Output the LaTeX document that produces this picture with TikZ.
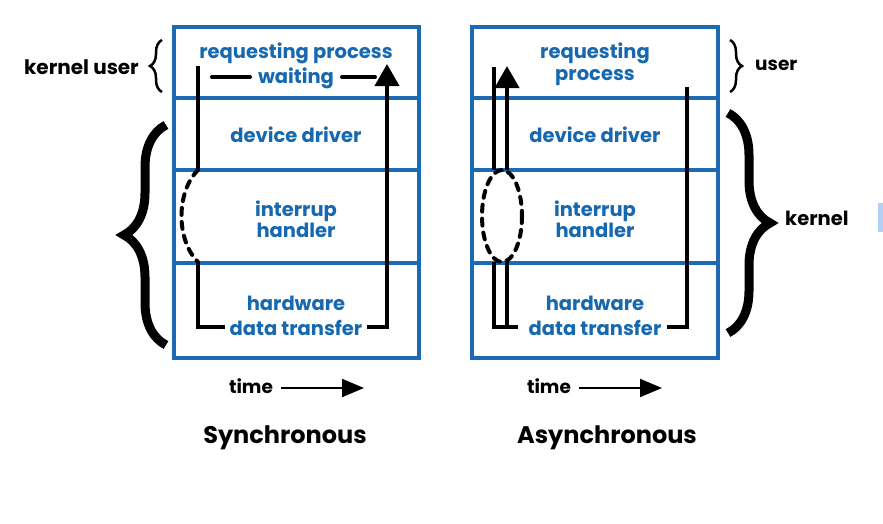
\documentclass[tikz,border=0pt]{standalone}
\usepackage{fontspec}
\setmainfont{Poppins}
\usetikzlibrary{arrows.meta,decorations.pathreplacing}
\definecolor{boxblue}{HTML}{1A6BB3}
\definecolor{txtblue}{HTML}{1668B0}
\definecolor{marker}{HTML}{B3CFF2}
\begin{document}
\begin{tikzpicture}[x=1pt,y=-1pt,
  lbl/.style={text=txtblue,font=\bfseries\fontsize{19.5}{21}\selectfont,inner sep=0},
  side/.style={text=black,font=\bfseries\fontsize{18.5}{20}\selectfont,inner sep=0},
  title/.style={text=black,font=\bfseries\fontsize{24}{26}\selectfont,inner sep=0},
  frame/.style={draw=boxblue,line width=3.5pt},
  flow/.style={draw=black,line width=4pt},
  dflow/.style={draw=black,line width=4pt,dash pattern=on 7pt off 7pt,line cap=round},
  bigtip/.style={-{Triangle[width=24pt,length=22pt]}},
  timetip/.style={-{Triangle[width=18pt,length=22pt]}},
  thinbrace/.style={decorate,decoration={brace,amplitude=12pt},line width=2.5pt},
  thickbrace/.style={decorate,decoration={brace,amplitude=42pt},line width=9pt}]
\useasboundingbox (0,0) rectangle (883,523);
\fill[white] (0,0) rectangle (883,523);

% ---------- Synchronous frame ----------
\draw[frame] (174,27) rectangle (419,358);
\draw[frame] (174,98) -- (419,98);
\draw[frame] (174,170) -- (419,170);
\draw[frame] (174,263) -- (419,263);

\node[lbl] (s_req) at (296,53) {requesting process};
\node[lbl] (s_wait) at (296,78) {waiting};
\node[lbl] (s_dev) at (296,135) {device driver};
\node[lbl] (s_int1) at (296,211) {interrup};
\node[lbl] (s_int2) at (296,230) {handler};
\node[lbl] (s_hw1) at (296,303) {hardware};
\node[lbl] (s_hw2) at (296,328) {data transfer};

% ---------- Asynchronous frame ----------
\draw[frame] (472,27) rectangle (718,358);
\draw[frame] (472,98) -- (718,98);
\draw[frame] (472,170) -- (718,170);
\draw[frame] (472,263) -- (718,263);

\node[lbl] (a_req1) at (595,53) {requesting};
\node[lbl] (a_req2) at (595,78) {process};
\node[lbl] (a_dev) at (595,135) {device driver};
\node[lbl] (a_int1) at (595,211) {interrup};
\node[lbl] (a_int2) at (595,230) {handler};
\node[lbl] (a_hw1) at (595,303) {hardware};
\node[lbl] (a_hw2) at (595,328) {data transfer};

% ---------- Synchronous flow ----------
\coordinate (s1) at (198,66);
\coordinate (s2) at (198,170);
\coordinate (s3) at (198,262);
\coordinate (s4) at (198,327);
\coordinate (s5) at (225,327);
\coordinate (s6) at (367,327);
\coordinate (s7) at (387,327);
\coordinate (s8) at (387,64);
\draw[flow] (s1) -- (s2);
\draw[dflow] (s2) .. controls (176,192) and (176,240) .. (s3);
\draw[flow] (s3) -- (s4) -- (s5);
\draw[flow,bigtip] (s6) -- (s7) -- (s8);
\coordinate (w1) at (212,77);
\coordinate (w2) at (250,77);
\coordinate (w3) at (342,77);
\coordinate (w4) at (375,77);
\draw[flow,line cap=round] (w1) -- (w2);
\draw[flow,line cap=round] (w3) -- (w4);

% ---------- Asynchronous flow ----------
\coordinate (a1) at (494,67);
\coordinate (a2) at (494,170);
\coordinate (b1) at (507,170);
\coordinate (b2) at (507,66);
\coordinate (a3) at (494,262);
\coordinate (a4) at (494,327);
\coordinate (a5) at (518,327);
\coordinate (b3) at (507,262);
\coordinate (b4) at (507,327);
\coordinate (c1) at (667,327);
\coordinate (c2) at (687,327);
\coordinate (c3) at (687,87);
\coordinate (ec) at (502,216);
\draw[flow] (a1) -- (a2);
\draw[flow,bigtip] (b1) -- (b2);
\draw[dflow] (ec) ellipse [x radius=20, y radius=46];
\draw[flow] (a3) -- (a4) -- (a5);
\draw[flow] (b3) -- (b4);
\draw[flow] (c1) -- (c2) -- (c3);

% ---------- Braces and side labels ----------
\draw[thinbrace] (162,92) -- (162,40);
\draw[thickbrace] (166,345) -- (166,125);
\node[side,anchor=east,font=\bfseries\fontsize{20}{22}\selectfont] (kuser) at (139,67) {kernel user};

\draw[thinbrace] (730,40) -- (730,92);
\draw[thickbrace] (728,113) -- (728,333);
\node[side,anchor=west] (user) at (755,65) {user};
\node[side,anchor=west,font=\bfseries\fontsize{19.5}{21}\selectfont] (kernel) at (785,218) {kernel};

\fill[marker] (878,203) rectangle (883,232);

% ---------- Time arrows and titles ----------
\node[side] (t1) at (251,386) {time};
\coordinate (t1a) at (281,388);
\coordinate (t1b) at (364,388);
\draw[line width=2pt,timetip] (t1a) -- (t1b);
\node[side] (t2) at (549,386) {time};
\coordinate (t2a) at (579,388);
\coordinate (t2b) at (662,388);
\draw[line width=2pt,timetip] (t2a) -- (t2b);

\node[title] (sync) at (285,438) {Synchronous};
\node[title] (async) at (607,438) {Asynchronous};
\end{tikzpicture}
\end{document}
